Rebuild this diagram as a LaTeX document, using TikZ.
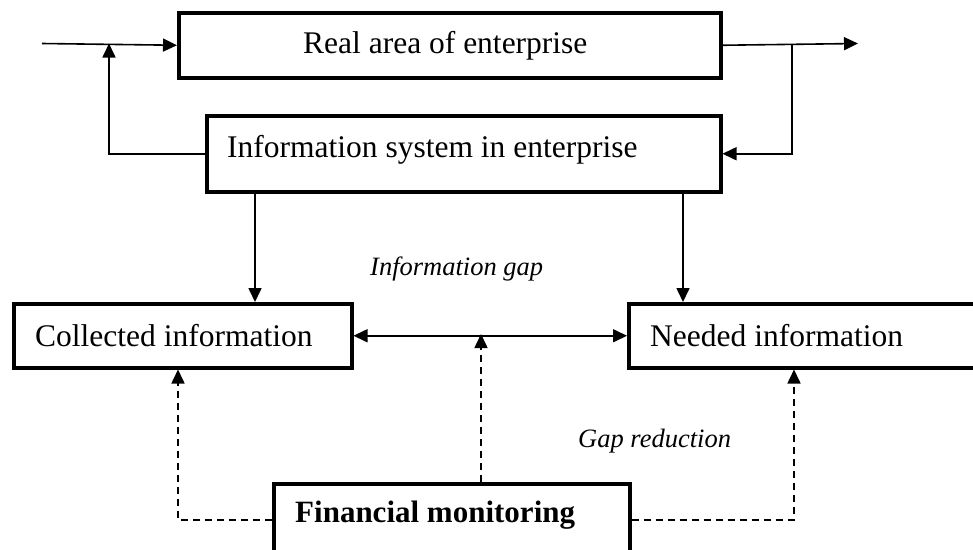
\documentclass[tikz,border=0pt]{standalone}
\usepackage{fontspec}
\setmainfont{Liberation Serif}
\usetikzlibrary{arrows.meta}
\begin{document}
\begin{tikzpicture}[x=1pt,y=-1pt,
  box/.style={draw,line width=3.5pt,inner sep=0pt,anchor=north west},
  lbl/.style={anchor=base west,inner sep=0pt,font=\fontsize{31.5}{36}\selectfont},
  ital/.style={anchor=base west,inner sep=0pt,font=\fontsize{26.5}{30}\selectfont\itshape},
  conn/.style={line width=1.6pt,-{Triangle[length=14pt,width=13pt]}},
  dconn/.style={conn,dash pattern=on 7pt off 5pt},
]
\useasboundingbox (0,0) rectangle (973,549);
% boxes
\node[box,minimum width=542pt,minimum height=65pt] (real) at (177,11) {};
\node[box,minimum width=514pt,minimum height=76pt] (info) at (205,114) {};
\node[box,minimum width=338pt,minimum height=64pt] (coll) at (12,302) {};
\node[box,minimum width=370pt,minimum height=64pt] (need) at (627,302) {};
\node[box,minimum width=356pt,minimum height=72pt] (fin) at (272,482) {};
% texts
\node[lbl] (realt) at (303,53) {Real area of enterprise};
\node[lbl] (infot) at (227,157) {Information system in enterprise};
\node[lbl] (collt) at (35,346) {Collected information};
\node[lbl] (needt) at (650,346) {Needed information};
\node[lbl,font=\fontsize{31}{36}\selectfont\bfseries] (fint) at (295,522) {Financial monitoring};
\node[ital] (gap) at (370,275) {Information gap};
\node[ital] (red) at (578,447) {Gap reduction};
% helper coordinates
\coordinate (in) at (42,43.5);
\coordinate (jl) at (109,43.5);
\coordinate (out) at (858,43.5);
\coordinate (jr) at (792,43.5);
\coordinate (xa) at (255,0);
\coordinate (xb) at (683,0);
\coordinate (mid) at (481,334);
\coordinate (xl) at (178,0);
\coordinate (xr) at (794,0);
% connectors
\draw[conn] (in) -- (real.west);
\draw[conn] (info.west) -| (jl);
\draw[conn] (real.east) -- (out);
\draw[conn] (jr) |- (info.east);
\draw[conn] (info.south -| xa) -- (coll.north -| xa);
\draw[conn] (info.south -| xb) -- (need.north -| xb);
\draw[line width=1.6pt,{Triangle[length=14pt,width=13pt]}-{Triangle[length=14pt,width=13pt]}] (coll.east) -- (need.west);
\draw[dconn] (fin.north -| mid) -- (mid);
\draw[dconn] (fin.west) -| (coll.south -| xl);
\draw[dconn] (fin.east) -| (need.south -| xr);
\end{tikzpicture}
\end{document}
